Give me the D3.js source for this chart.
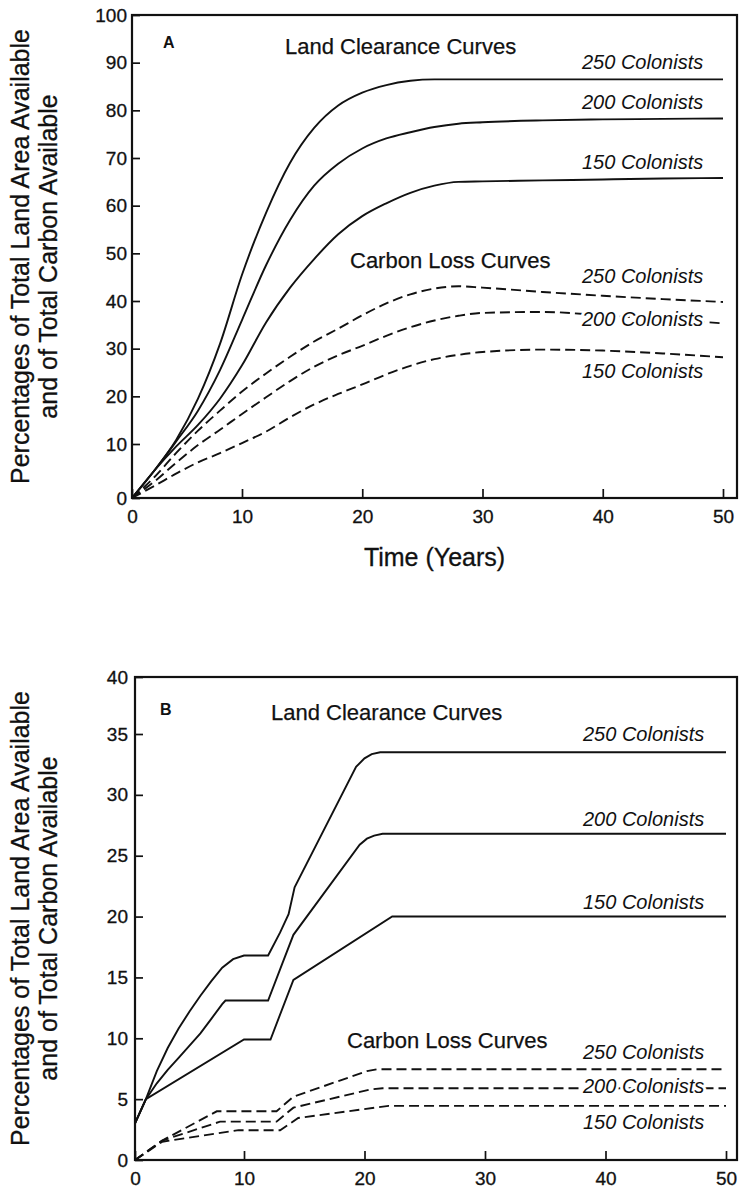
<!DOCTYPE html>
<html>
<head>
<meta charset="utf-8">
<script src="https://cdn.jsdelivr.net/npm/d3@7"></script>
<style>
  body { margin: 0; background: #fff; }
  svg { display: block; font-family: 'Liberation Sans', Arial, Helvetica, sans-serif; }
  .line { fill: none; stroke: #111; stroke-width: 1.9; }
  .dashed { stroke-dasharray: 10,5; }
  .axis text { font-size: 19px; fill: #111; stroke: #111; stroke-width: 0.3px; font-family: 'Liberation Sans', Arial, sans-serif; }
  .axis line { stroke: #111; stroke-width: 1.7; }
  .axis path { display: none; }
  .frame { fill: none; stroke: #111; stroke-width: 2.2; }
  .note { font-size: 22px; fill: #111; stroke: #111; stroke-width: 0.25px; }
  .colonists { font-size: 20px; font-style: italic; fill: #111; paint-order: stroke; stroke: #fff; stroke-width: 6px; stroke-linejoin: round; }
  .panel-letter { font-size: 16px; font-weight: bold; fill: #111; }
  .title { font-size: 25px; fill: #111; stroke: #111; stroke-width: 0.3px; }
</style>
</head>
<body>
<div id="chart"></div>
<script>
// ---- data ----
const colonistLabels = ['250 Colonists', '200 Colonists', '150 Colonists'];
const yTitleLines = ['Percentages of Total Land Area Available', 'and of Total Carbon Available'];

// panel A (smooth curves, common years)
const yearsA = [0, 2, 4, 6, 8, 10, 12, 14, 16, 18, 20, 22, 24, 26, 28, 30, 35, 40, 45, 50];
const landA250 = [0, 5, 10.8, 19.5, 31, 45.5, 58.5, 69, 76.3, 81, 83.7, 85.3, 86.2, 86.5, 86.5, 86.5, 86.5, 86.5, 86.5, 86.5];
const landA200 = [0, 5, 10.5, 17, 25.5, 36, 47.5, 57, 64.2, 68.8, 72, 74.1, 75.4, 76.5, 77.2, 77.5, 77.9, 78.1, 78.2, 78.3];
const landA150 = [0, 5, 9.5, 14, 19.5, 26.5, 35.5, 42.8, 48.8, 54, 57.8, 60.5, 62.7, 64.2, 65, 65.1, 65.3, 65.5, 65.7, 65.8];
const carbonA250 = [0, 3.8, 8.3, 12.8, 17, 21, 24.8, 28.3, 31.5, 34.2, 37, 39.5, 41.4, 42.6, 43.1, 42.8, 41.9, 41.1, 40.4, 39.8];
const carbonA200 = [0, 3, 6.5, 9.8, 13, 16.3, 19.8, 23.2, 26.2, 28.6, 30.6, 32.7, 34.5, 35.9, 36.9, 37.5, 37.7, 37, 36.2, 35.3];
const carbonA150 = [0, 2.2, 4.5, 6.6, 8.3, 10.2, 12.6, 15.6, 18.3, 20.5, 22.5, 24.6, 26.4, 27.8, 28.7, 29.3, 29.8, 29.6, 29, 28.2];

// panel B (piecewise curves)
const landB250Years = [0, 1, 2, 3, 4, 5, 6, 7, 8, 9, 10, 12, 13, 13.7, 14.2, 19.3, 20, 20.6, 21.3, 22, 50];
const landB250 = [3, 5, 7.3, 9.2, 10.8, 12.2, 13.5, 14.7, 15.8, 16.5, 16.8, 16.8, 18.7, 20.2, 22.4, 32.3, 33, 33.35, 33.5, 33.5, 33.5];
const landB200Years = [0, 1, 2, 3, 4, 5, 6, 7, 8, 8.3, 12, 13.2, 14.1, 19.6, 20.2, 20.8, 21.5, 22.3, 50];
const landB200 = [3, 5, 6.3, 7.4, 8.4, 9.4, 10.4, 11.6, 12.8, 13.1, 13.1, 16.2, 18.5, 25.9, 26.4, 26.65, 26.8, 26.8, 26.8];
const landB150Years = [0, 1, 10, 12.2, 14.1, 22.3, 50];
const landB150 = [3, 5, 9.9, 9.9, 14.8, 20, 20];
const carbonB250Years = [0, 2.5, 7.5, 12.7, 14.1, 20.2, 21, 50];
const carbonB250 = [0, 1.6, 4.0, 4.0, 5.2, 7.3, 7.45, 7.45];
const carbonB200Years = [0, 2.5, 7.8, 12.7, 14.1, 20.5, 21.5, 50];
const carbonB200 = [0, 1.6, 3.15, 3.15, 4.3, 5.8, 5.9, 5.9];
const carbonB150Years = [0, 2.5, 9.5, 13, 14.5, 22, 50];
const carbonB150 = [0, 1.5, 2.45, 2.45, 3.45, 4.45, 4.45];

const xTicks = [0, 10, 20, 30, 40, 50];
const yTicksA = [0, 10, 20, 30, 40, 50, 60, 70, 80, 90, 100];
const yTicksB = [0, 5, 10, 15, 20, 25, 30, 35, 40];

const zip = (xs, ys) => ys.map((v, i) => ({ year: xs[i], value: v }));

const svg = d3.select('#chart').append('svg')
  .attr('width', 739)
  .attr('height', 1188);

function drawPanel(p) {
  const g = svg.append('g');
  const x = d3.scaleLinear().domain([0, 10, 50]).range(p.xRange);
  const y = d3.scaleLinear().domain(p.yDomain).range(p.yRange);

  const line = d3.line()
    .curve(p.curve)
    .x(d => x(d.year))
    .y(d => y(d.value));

  g.append('rect')
    .attr('class', 'frame')
    .attr('x', p.left).attr('y', p.top)
    .attr('width', p.right - p.left).attr('height', p.bottom - p.top);

  g.append('g')
    .attr('class', 'axis')
    .attr('transform', `translate(0,${p.bottom})`)
    .call(d3.axisBottom(x).tickValues(xTicks).tickSizeInner(-9).tickSizeOuter(0).tickPadding(p.xPad));

  g.append('g')
    .attr('class', 'axis')
    .attr('transform', `translate(${p.left},0)`)
    .call(d3.axisLeft(y).tickValues(p.yTicks).tickSizeInner(-8).tickSizeOuter(0).tickPadding(p.yPad));

  g.selectAll('.land')
    .data(p.land)
    .enter()
    .append('path')
    .attr('class', 'line land')
    .attr('d', d => line(d));

  g.selectAll('.carbon')
    .data(p.carbon)
    .enter()
    .append('path')
    .attr('class', 'line dashed carbon')
    .attr('d', d => line(d));

  // series labels, placed relative to each curve's end value
  p.land.forEach((s, i) => {
    g.append('text').attr('class', 'colonists')
      .attr('x', p.labelX)
      .attr('y', y(s[s.length - 1].value) + p.landDy[i])
      .text(colonistLabels[i]);
  });
  p.carbon.forEach((s, i) => {
    g.append('text').attr('class', 'colonists')
      .attr('x', p.labelX)
      .attr('y', y(s[s.length - 1].value) + p.carbonDy[i])
      .text(colonistLabels[i]);
  });

  g.append('text').attr('class', 'note')
    .attr('x', p.landNote[0]).attr('y', p.landNote[1])
    .text('Land Clearance Curves');
  g.append('text').attr('class', 'note')
    .attr('x', p.carbonNote[0]).attr('y', p.carbonNote[1])
    .text('Carbon Loss Curves');
  g.append('text').attr('class', 'panel-letter')
    .attr('x', p.letterPos[0]).attr('y', p.letterPos[1])
    .text(p.letter);

  const cy = (p.top + p.bottom) / 2;
  [29, 57].forEach((tx, i) => {
    g.append('text').attr('class', 'title')
      .attr('text-anchor', 'middle')
      .attr('transform', `translate(${tx},${cy}) rotate(-90)`)
      .text(yTitleLines[i]);
  });

  if (p.xTitle) {
    g.append('text').attr('class', 'title')
      .attr('text-anchor', 'middle')
      .attr('x', (p.left + p.right) / 2)
      .attr('y', p.bottom + 68)
      .text(p.xTitle);
  }
}

drawPanel({
  left: 132, right: 737, top: 15, bottom: 498,
  xRange: [132, 242, 723],
  yDomain: [0, 10, 100], yRange: [498, 444, 15],
  yTicks: yTicksA, xPad: 11.5, yPad: 5,
  curve: d3.curveMonotoneX,
  land: [zip(yearsA, landA250), zip(yearsA, landA200), zip(yearsA, landA150)],
  carbon: [zip(yearsA, carbonA250), zip(yearsA, carbonA200), zip(yearsA, carbonA150)],
  labelX: 582, landDy: [-10, -9, -9], carbonDy: [-19, 3, 21],
  landNote: [285, 54], carbonNote: [350, 268],
  letter: 'A', letterPos: [163, 48],
  xTitle: 'Time (Years)'
});

drawPanel({
  left: 135, right: 737, top: 677, bottom: 1160,
  xRange: [135, 244, 726],
  yDomain: [0, 35, 40], yRange: [1160, 734, 677],
  yTicks: yTicksB, xPad: 12, yPad: 7,
  curve: d3.curveLinear,
  land: [zip(landB250Years, landB250), zip(landB200Years, landB200), zip(landB150Years, landB150)],
  carbon: [zip(carbonB250Years, carbonB250), zip(carbonB200Years, carbonB200), zip(carbonB150Years, carbonB150)],
  labelX: 583, landDy: [-11, -8, -8], carbonDy: [-10, 5, 23],
  landNote: [271, 720], carbonNote: [347, 1048],
  letter: 'B', letterPos: [160, 715],
  xTitle: null
});
</script>
</body>
</html>
